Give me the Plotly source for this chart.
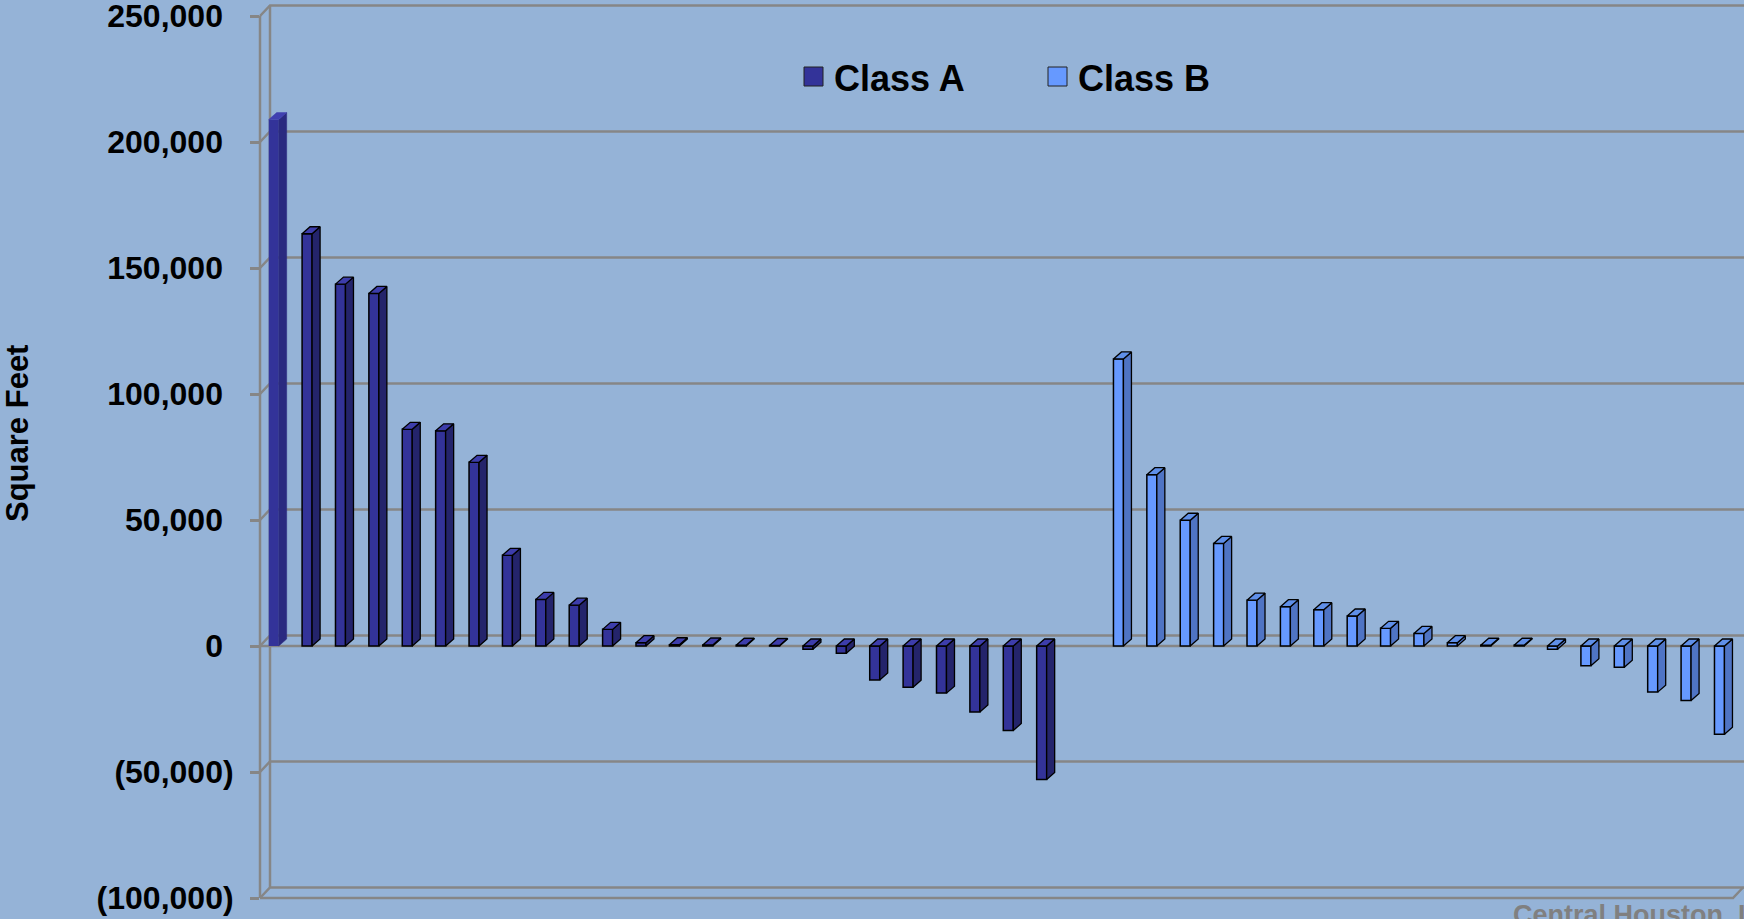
import plotly.graph_objects as go

# ---------------- data ----------------
class_a_values = [208900, 163600, 143600, 139900, 86000, 85400, 72900, 36000,
                  18500, 16200, 6600, 1300, 500, 400, 300, 200,
                  -1300, -2900, -13500, -16400, -18700, -26200, -33500, -53000]
class_b_values = [113900, 68000, 49900, 40700, 18200, 15600, 14400, 11900,
                  7000, 5000, 1300, 300, 300, -1300, -7800, -8400,
                  -18300, -21600, -35000]
class_a_positions = list(range(1, 25))
class_b_positions = list(range(26, 45))
y_tick_values = [-100000, -50000, 0, 50000, 100000, 150000, 200000, 250000]
series_names = ["Class A", "Class B"]
y_title = "Square Feet"
source_text = "Central Houston, Inc."

# ---------------- layout geometry (pixels) ----------------
W, H = 1744, 919
L, R = 260, 1744          # plot area left / right
T, B = 16, 898            # plot area top / bottom (front plane)
SP = 33.39                # px per category
C1 = 278.7                # px centre of category 1
x_range = [1 - (C1 - L) / SP, 1 + (R - C1) / SP]
y_range = [-100000, 250000]
KPX = (B - T) / (y_range[1] - y_range[0])
WDX, WDY = 10, 10.5       # wall depth offset
BW = 10 / SP              # bar width (data units)
DDX = 8 / SP              # bar depth offset x (data)
DDY = 7 / KPX             # bar depth offset y (data)

BG = "#95b3d7"
GRID = "#868686"
FONT = "Liberation Sans, Arial, sans-serif"


def fx(px):
    return (px - L) / (R - L)


def fy(py):
    return (B - py) / (B - T)


def vy(v):
    return B - (v - y_range[0]) * KPX


def faces(pos, vals, off):
    sx, sy, tx, ty = [], [], [], []
    for p, v in zip(pos, vals):
        xl = p + off
        xr = xl + BW
        top = max(v, 0)
        bot = min(v, 0)
        sx += [xr, xr, xr + DDX, xr + DDX, xr, None]
        sy += [bot, top, top + DDY, bot + DDY, bot, None]
        tx += [xl, xr, xr + DDX, xl + DDX, xl, None]
        ty += [top, top, top + DDY, top + DDY, top, None]
    return sx, sy, tx, ty


fig = go.Figure()

styles = {
    "Class A": dict(front="#333399", side="#24246b", top="#3d3dab"),
    "Class B": dict(front="#6699ff", side="#4f74c4", top="#5f8fe8"),
}

# Class A front faces (first bar drawn without outline, as in the source)
a_line_w = [0] + [1.5] * (len(class_a_values) - 1)
fig.add_trace(go.Bar(x=class_a_positions, y=class_a_values, width=BW, offset=-BW,
                     marker=dict(color=styles["Class A"]["front"],
                                 line=dict(color="black", width=a_line_w)),
                     name="Class A", showlegend=False, hoverinfo="x+y"))
fig.add_trace(go.Bar(x=class_b_positions, y=class_b_values, width=BW, offset=0,
                     marker=dict(color=styles["Class B"]["front"],
                                 line=dict(color="black", width=1.5)),
                     name="Class B", showlegend=False, hoverinfo="x+y"))

groups = [
    ("Class A", class_a_positions[:1], class_a_values[:1], -BW, 0, "#2a2a80", "#4040b0"),
    ("Class A", class_a_positions[1:], class_a_values[1:], -BW, 1.3,
     styles["Class A"]["side"], styles["Class A"]["top"]),
    ("Class B", class_b_positions, class_b_values, 0, 1.3,
     styles["Class B"]["side"], styles["Class B"]["top"]),
]
for name, pos, vals, off, lw, side_c, top_c in groups:
    sx, sy, tx, ty = faces(pos, vals, off)
    lc = "black" if lw > 0 else side_c
    fig.add_trace(go.Scatter(x=sx, y=sy, mode="lines", fill="toself", fillcolor=side_c,
                             line=dict(color=lc, width=max(lw, 0.5)), hoverinfo="skip",
                             showlegend=False))
    lc = "black" if lw > 0 else top_c
    fig.add_trace(go.Scatter(x=tx, y=ty, mode="lines", fill="toself", fillcolor=top_c,
                             line=dict(color=lc, width=max(lw, 0.5)), hoverinfo="skip",
                             showlegend=False))

shapes = []


def seg(points, width=2.5, color=GRID, layer="below"):
    d = "M " + " L ".join(f"{fx(x):.6f},{fy(y):.6f}" for x, y in points)
    shapes.append(dict(type="path", xref="paper", yref="paper", path=d,
                       line=dict(color=color, width=width), layer=layer))


FRONT_RIGHT = R - 11
# back-wall gridlines with the little diagonal connectors
for v in y_tick_values:
    yf = vy(v)
    seg([(L, yf), (L + WDX, yf - WDY), (R, yf - WDY)])
# front zero (category axis) and front floor edge
seg([(L, vy(0)), (FRONT_RIGHT, vy(0))])
seg([(L, vy(-100000)), (FRONT_RIGHT, vy(-100000)), (FRONT_RIGHT + WDX, vy(-100000) - WDY)])
# walls' left edges
seg([(L, vy(250000)), (L, vy(-100000))])
seg([(L + WDX, vy(250000) - WDY), (L + WDX, vy(-100000) - WDY)])

# custom legend
legend_items = [("Class A", 804, 832), ("Class B", 1048, 1076)]
annotations = []
for name, sq_x, tx_x in legend_items:
    shapes.append(dict(type="rect", xref="paper", yref="paper",
                       x0=fx(sq_x), x1=fx(sq_x + 19), y0=fy(86), y1=fy(67),
                       fillcolor=styles[name]["front"], line=dict(color="#222222", width=1),
                       layer="above"))
    annotations.append(dict(text=f"<b>{name}</b>", xref="paper", yref="paper",
                            x=fx(tx_x), y=fy(78), xanchor="left", yanchor="middle",
                            showarrow=False, font=dict(family=FONT, size=36, color="black")))

annotations.append(dict(text=f"<b>{y_title}</b>", xref="paper", yref="paper",
                        x=fx(17), y=fy(434), xanchor="center", yanchor="middle",
                        textangle=-90, showarrow=False,
                        font=dict(family=FONT, size=31, color="black")))
annotations.append(dict(text=f"<b>{source_text}</b>", xref="paper", yref="paper",
                        x=fx(1511), y=fy(898), xanchor="left", yanchor="top",
                        showarrow=False, font=dict(family=FONT, size=27, color="#808080")))


def fmt(v):
    s = f"{abs(v):,}"
    if v < 0:
        return f"<b>({s})</b>"
    return f"<b>{s}<span style='color:rgba(0,0,0,0)'>)</span></b>"


fig.update_layout(
    width=W, height=H, autosize=False,
    margin=dict(l=L, r=W - R, t=T, b=H - B, pad=0, autoexpand=False),
    paper_bgcolor=BG, plot_bgcolor=BG,
    barmode="overlay",
    showlegend=False,
    shapes=shapes,
    annotations=annotations,
    xaxis=dict(range=x_range, showgrid=False, zeroline=False, showticklabels=False,
               showline=False, ticks="", fixedrange=True, automargin=False),
    yaxis=dict(range=y_range, tickvals=y_tick_values,
               ticktext=[fmt(v) for v in y_tick_values],
               showgrid=False, zeroline=False, showline=False,
               ticks="outside", ticklen=9, tickwidth=2.5, tickcolor=GRID,
               ticklabelstandoff=10, ticklabeloverflow="allow", automargin=False,
               tickfont=dict(family=FONT, size=32, color="black"), fixedrange=True),
)

fig.write_html("out.html")
